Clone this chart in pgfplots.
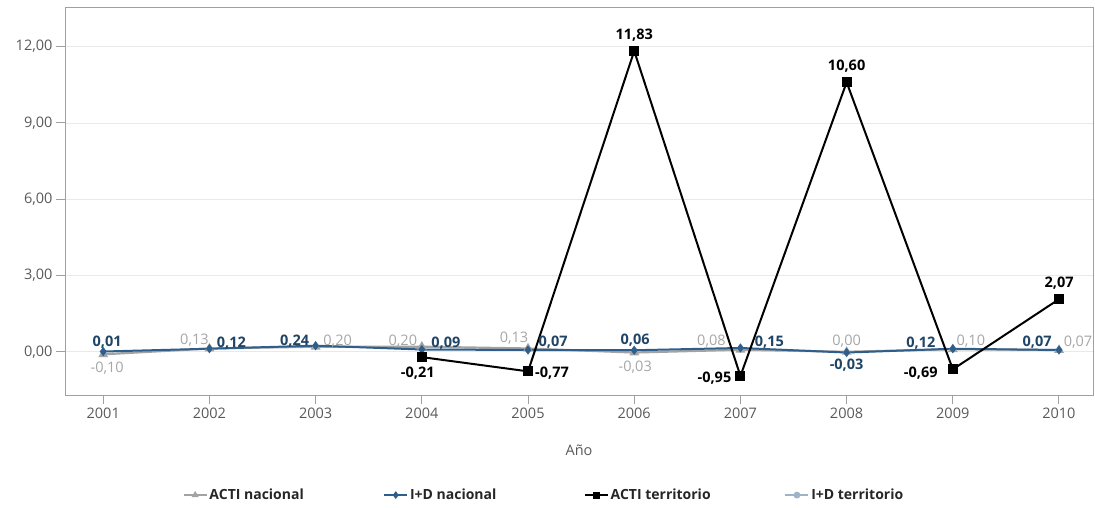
\documentclass[border=0pt]{standalone}
\usepackage{fontspec}
\setmainfont{Open Sans}
\usepackage{pgfplots}
\usepackage{pgfplotstable}
\pgfplotsset{compat=1.18}
\definecolor{gline}{HTML}{A3A3A3}
\definecolor{glab}{HTML}{A6A6A6}
\definecolor{idblue}{HTML}{2E5F8C}
\definecolor{idlab}{HTML}{1F4466}
\definecolor{idterr}{HTML}{9FB3C8}
\definecolor{ticklab}{HTML}{595959}
\definecolor{frame}{HTML}{A0A0A0}
\definecolor{gridc}{HTML}{E9E9E9}

\pgfplotstableread{
x y lab dx dy
2001 -0.10 -0,10 4 -14
2002 0.13 0,13 -15 8
2003 0.20 0,20 22 5.5
2004 0.20 0,20 -19 6
2005 0.13 0,13 -14 10.5
2006 -0.03 -0,03 1 -14.5
2007 0.08 0,08 -29 8.5
2008 0.00 0,00 0 10.5
2009 0.10 0,10 18 8
2010 0.07 0,07 19 8
}\actinac

\pgfplotstableread{
x y lab dx dy
2001 0.01 0,01 4 9
2002 0.12 0,12 22 6
2003 0.24 0,24 -21 5
2004 0.09 0,09 24 6.5
2005 0.07 0,07 25 7.5
2006 0.06 0,06 1 10.5
2007 0.15 0,15 29 5.5
2008 -0.03 -0,03 0 -13
2009 0.12 0,12 -32 6
2010 0.07 0,07 -22 7.5
}\idnac

\pgfplotstableread{
x y lab dx dy
2004 -0.21 -0,21 -4 -16
2005 -0.77 -0,77 24 -2
2006 11.83 11,83 0 16
2007 -0.95 -0,95 -26 -2
2008 10.60 10,60 0 16
2009 -0.69 -0,69 -32 -4
2010 2.07 2,07 0 16
}\actiterr

\newcommand{\lfont}{\fontsize{14.5}{17}\selectfont}
\begin{document}
\begin{tikzpicture}
\path[use as bounding box] (-65pt,-112pt) rectangle (1030pt,395pt);
\begin{axis}[
  at={(0pt,0pt)}, anchor=south west,
  scale only axis,
  width=1028pt, height=388pt,
  xmin=2000.64, xmax=2010.32,
  ymin=-1.70, ymax=13.56,
  xtick={2001,...,2010},
  ytick={0,3,6,9,12},
  axis line style={frame, line width=0.9pt},
  tick style={frame, line width=0.9pt},
  tick align=outside,
  major tick length=9pt,
  xtick pos=bottom, ytick pos=left,
  ymajorgrids,
  grid style={gridc, line width=0.8pt},
  /pgf/number format/assume math mode=true,
  xticklabel style={/pgf/number format/1000 sep={}, font=\lfont, text=ticklab},
  yticklabel style={/pgf/number format/.cd, fixed, fixed zerofill, precision=2, use comma, /tikz/.cd, font=\lfont, text=ticklab},
  xlabel={Año},
  xlabel style={at={(axis description cs:0.5,-0.142)}, anchor=center, font=\lfont, text=ticklab},
  legend style={at={(0.466,-0.258)}, anchor=center, draw=none, fill=none,
    font=\fontsize{14}{17}\selectfont\bfseries, text=black!85,
    /tikz/every even column/.append style={column sep=0pt}},
  legend columns=4,
  legend image code/.code={
    \draw[#1, line width=1.6pt, mark size=2.6pt, mark repeat=2, mark phase=2] plot coordinates {(0pt,0pt) (11.5pt,0pt) (23pt,0pt)};
  },
  clip=false,
]
\addplot[color=gline, line width=2.2pt, mark=triangle*, mark size=3.5pt,
  mark options={solid, fill=gline},
  nodes near coords, point meta=explicit symbolic,
  visualization depends on={\thisrow{dx} \as \dx},
  visualization depends on={\thisrow{dy} \as \dy},
  every node near coord/.append style={anchor=center, xshift=\dx pt, yshift=\dy pt,
    font=\lfont, text=glab, inner sep=0pt}]
  table[x=x, y=y, meta=lab]{\actinac};
\addlegendentry{\makebox[172pt][l]{ACTI nacional}}
\addplot[color=idblue, line width=2pt, mark=diamond*, mark size=3pt,
  mark options={solid, fill=idblue},
  nodes near coords, point meta=explicit symbolic,
  visualization depends on={\thisrow{dx} \as \dx},
  visualization depends on={\thisrow{dy} \as \dy},
  every node near coord/.append style={anchor=center, xshift=\dx pt, yshift=\dy pt,
    font=\lfont\bfseries, text=idlab, inner sep=0pt}]
  table[x=x, y=y, meta=lab]{\idnac};
\addlegendentry{\makebox[172pt][l]{I+D nacional}}
\addplot[color=black, line width=2pt, mark=square*, mark size=4pt,
  mark options={solid, fill=black},
  nodes near coords, point meta=explicit symbolic,
  visualization depends on={\thisrow{dx} \as \dx},
  visualization depends on={\thisrow{dy} \as \dy},
  every node near coord/.append style={anchor=center, xshift=\dx pt, yshift=\dy pt,
    font=\lfont\bfseries, text=black, inner sep=0pt}]
  table[x=x, y=y, meta=lab]{\actiterr};
\addlegendentry{\makebox[172pt][l]{ACTI territorio}}
\addlegendimage{color=idterr, line width=2pt, mark=*, mark size=3pt, mark options={solid, fill=idterr}}
\addlegendentry{I+D territorio}
\end{axis}
\end{tikzpicture}
\end{document}
